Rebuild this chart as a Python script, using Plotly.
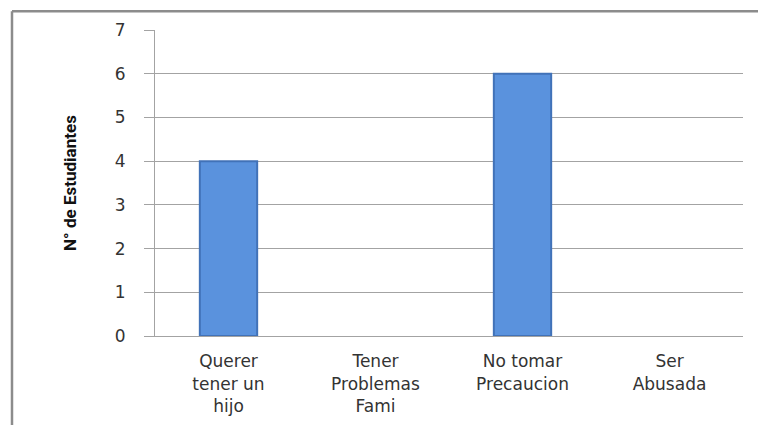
import plotly.graph_objects as go

# Data
CATEGORIES = [
    "Querer<br>tener un<br>hijo",
    "Tener<br>Problemas<br>Fami",
    "No tomar<br>Precaucion",
    "Ser<br>Abusada",
]
STUDENTS = [4, 0, 6, 0]
Y_TICKS = [0, 1, 2, 3, 4, 5, 6, 7]

GRID = "#A3A3A3"
FRAME = "#8C8C8C"

fig = go.Figure()
fig.add_trace(go.Bar(
    x=CATEGORIES,
    y=STUDENTS,
    marker_color="#5A92DD",
    # no outline on empty bars
    marker_line=dict(color="#4172B8", width=[2 if v > 0 else 0 for v in STUDENTS]),
    width=0.39,
))

# page body adds an 8px offset, so margins are shifted to compensate
fig.update_layout(
    width=766, height=425,
    paper_bgcolor="white",
    plot_bgcolor="white",
    margin=dict(l=147, r=31, t=17, b=97),
    showlegend=False,
    font=dict(family="DejaVu Sans, Verdana, sans-serif", size=17, color="#333333"),
    shapes=[
        # outer chart frame (left and top edges visible)
        dict(type="line", xref="paper", yref="paper",
             x0=-0.2432, x1=-0.2432, y0=1.0611, y1=-0.35,
             line=dict(color=FRAME, width=2.5)),
        dict(type="line", xref="paper", yref="paper",
             x0=-0.2432, x1=1.1, y0=1.0611, y1=1.0611,
             line=dict(color=FRAME, width=2.5)),
    ],
)

fig.update_yaxes(
    range=[0, 7],
    tickvals=Y_TICKS,
    showgrid=True, gridcolor=GRID, gridwidth=1,
    zeroline=False,
    showline=True, linecolor=GRID, linewidth=1,
    ticks="outside", ticklen=10, tickcolor=GRID,
    ticklabelstandoff=15,
    tickfont=dict(size=17, color="#333333"),
    title=dict(
        text="<b>N° de Estudiantes</b>",
        font=dict(family="Roboto, Liberation Sans, sans-serif",
                  size=17, color="#111111"),
        standoff=33,
    ),
)

fig.update_xaxes(
    showgrid=False, zeroline=False,
    showline=True, linecolor=GRID, linewidth=1,
    ticks="",
    ticklabelstandoff=10,
    tickfont=dict(size=17, color="#333333"),
)

fig.write_html("out.html")
